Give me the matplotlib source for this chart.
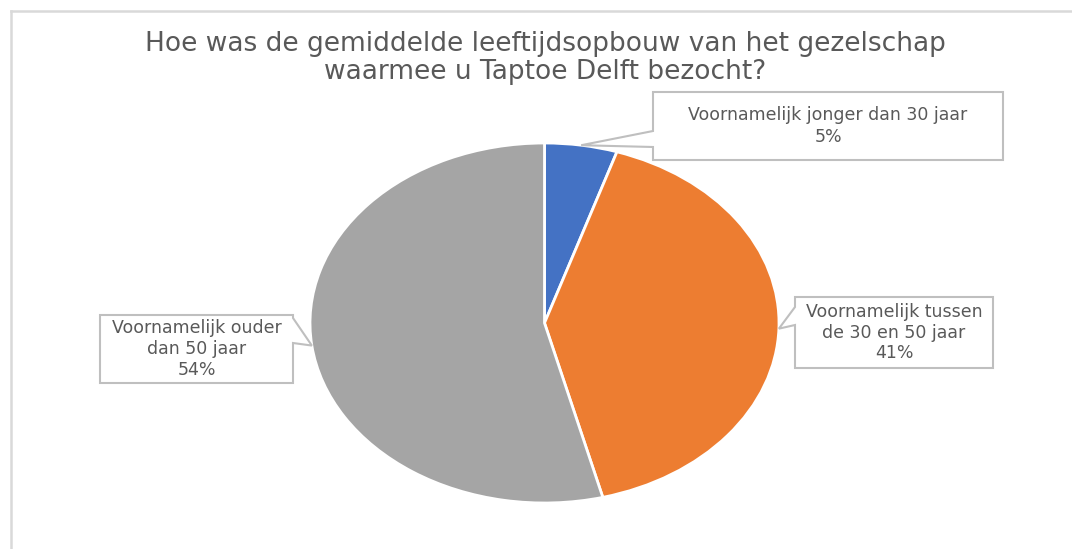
import matplotlib.pyplot as plt
import numpy as np
from matplotlib.patches import Polygon

categories = ['Voornamelijk jonger dan 30 jaar',
              'Voornamelijk tussen\nde 30 en 50 jaar',
              'Voornamelijk ouder\ndan 50 jaar']
shares = [5, 41, 54]
colors = ['#4472C4', '#ED7D31', '#A5A5A5']

title = ('Hoe was de gemiddelde leeftijdsopbouw van het gezelschap\n'
         'waarmee u Taptoe Delft bezocht?')

W, H = 1072, 549
fig = plt.figure(figsize=(W / 100, H / 100), dpi=100)


def frac(x, y):
    # pixel position (origin top left) -> figure fraction
    return x / W, 1 - y / H


# Pie area is stretched wider than tall
left, top, right, bottom = 310, 143, 779, 503
ax = fig.add_axes([left / W, 1 - bottom / H, (right - left) / W,
                   (bottom - top) / H])
wedges, _ = ax.pie(shares, colors=colors, startangle=90, counterclock=False,
                   wedgeprops=dict(edgecolor='white', linewidth=2))
ax.set_aspect('auto')
ax.set_xlim(-1, 1)
ax.set_ylim(-1, 1)
ax.axis('off')

# Chart frame (partly visible)
fig.add_artist(plt.Line2D([11 / W, 1], [1 - 11 / H, 1 - 11 / H],
                          transform=fig.transFigure, color='#d9d9d9', lw=1.8))
fig.add_artist(plt.Line2D([11 / W, 11 / W], [0, 1 - 11 / H],
                          transform=fig.transFigure, color='#d9d9d9', lw=1.8))

fig.text(*frac(545, 58), title, ha='center', va='center', fontsize=19,
         color='#595959', linespacing=1.1)

# Callout boxes: (box left, top, right, bottom), notch side and notch span
boxes = [
    ((653, 92, 1003, 160), 'left', (131, 147), 1.35),
    ((795, 297, 993, 368), 'left', (307, 325), 1.2),
    ((100, 315, 293, 383), 'right', (318, 343), 1.2),
]

fig.canvas.draw()
inv = fig.transFigure.inverted()
for w, cat, share, (box, side, (n1, n2), ls) in zip(wedges, categories,
                                                    shares, boxes):
    mid = np.deg2rad((w.theta1 + w.theta2) / 2)
    tx, ty = ax.transData.transform((np.cos(mid), np.sin(mid)))
    tip = inv.transform((tx, ty))
    bl, bt, br, bb = box
    if side == 'left':
        pts = [frac(bl, bt), frac(br, bt), frac(br, bb), frac(bl, bb),
               frac(bl, n2), tip, frac(bl, n1)]
    else:
        pts = [frac(bl, bt), frac(br, bt), frac(br, n1), tip,
               frac(br, n2), frac(br, bb), frac(bl, bb)]
    fig.add_artist(Polygon(pts, closed=True, transform=fig.transFigure,
                           facecolor='white', edgecolor='#bfbfbf', lw=1.5))
    fig.text(*frac((bl + br) / 2, (bt + bb) / 2), f'{cat}\n{share}%',
             ha='center', va='center', fontsize=12.5, color='#595959',
             linespacing=ls)

fig.savefig('out.png', dpi=100)
